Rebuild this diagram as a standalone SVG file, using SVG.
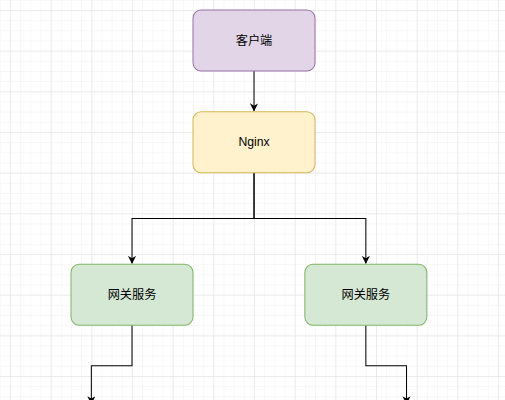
<svg xmlns="http://www.w3.org/2000/svg" width="505" height="400" viewBox="0 0 505 400">
<defs>
<pattern id="minor" width="10" height="10" patternUnits="userSpaceOnUse">
<path d="M0 0H10M0 0V10" fill="none" stroke="#f0f0f0" stroke-width="1"/>
</pattern>
<pattern id="major" width="40" height="40" patternUnits="userSpaceOnUse">
<path d="M0 0H40M0 0V40" fill="none" stroke="#e0e0e0" stroke-width="1"/>
</pattern>
<marker id="arr" viewBox="0 0 10 10" refX="9" refY="5" markerWidth="8" markerHeight="8" markerUnits="userSpaceOnUse" orient="auto">
<path d="M0 0L10 5L0 10L3 5Z" fill="#000"/>
</marker>
<style>
.node rect{stroke-width:1}
.lbl{font-family:"Liberation Sans","Noto Sans CJK SC",sans-serif;font-size:12px;fill:#000;text-anchor:middle;dominant-baseline:central}
.edge{fill:none;stroke:#000;stroke-width:1}
</style>
</defs>
<rect width="505" height="400" fill="#fff"/>
<g transform="translate(10,10) scale(1.0167)">
<rect x="-20" y="-20" width="520" height="420" fill="url(#minor)"/>
<rect x="-40" y="-40" width="540" height="440" fill="url(#major)"/>
<g id="connectors">
<path class="edge" d="M240 60V99" marker-end="url(#arr)"/>
<path class="edge" d="M240 160V205H120V249" marker-end="url(#arr)"/>
<path class="edge" d="M240 160V205H350V249" marker-end="url(#arr)"/>
<path class="edge" d="M120 310V350H80V387" marker-end="url(#arr)"/>
<path class="edge" d="M350 310V350H390V387" marker-end="url(#arr)"/>
</g>
<g id="client" class="node">
<rect x="180" y="0" width="120" height="60" rx="8" fill="#e1d5e7" stroke="#9673a6"/>
<text class="lbl" x="240" y="30">客户端</text>
</g>
<g id="nginx" class="node">
<rect x="180" y="100" width="120" height="60" rx="8" fill="#fff2cc" stroke="#d6b656"/>
<text class="lbl" x="240" y="130">Nginx</text>
</g>
<g id="gateway1" class="node">
<rect x="60" y="250" width="120" height="60" rx="8" fill="#d5e8d4" stroke="#82b366"/>
<text class="lbl" x="120" y="280">网关服务</text>
</g>
<g id="gateway2" class="node">
<rect x="290" y="250" width="120" height="60" rx="8" fill="#d5e8d4" stroke="#82b366"/>
<text class="lbl" x="350" y="280">网关服务</text>
</g>
</g>
</svg>
